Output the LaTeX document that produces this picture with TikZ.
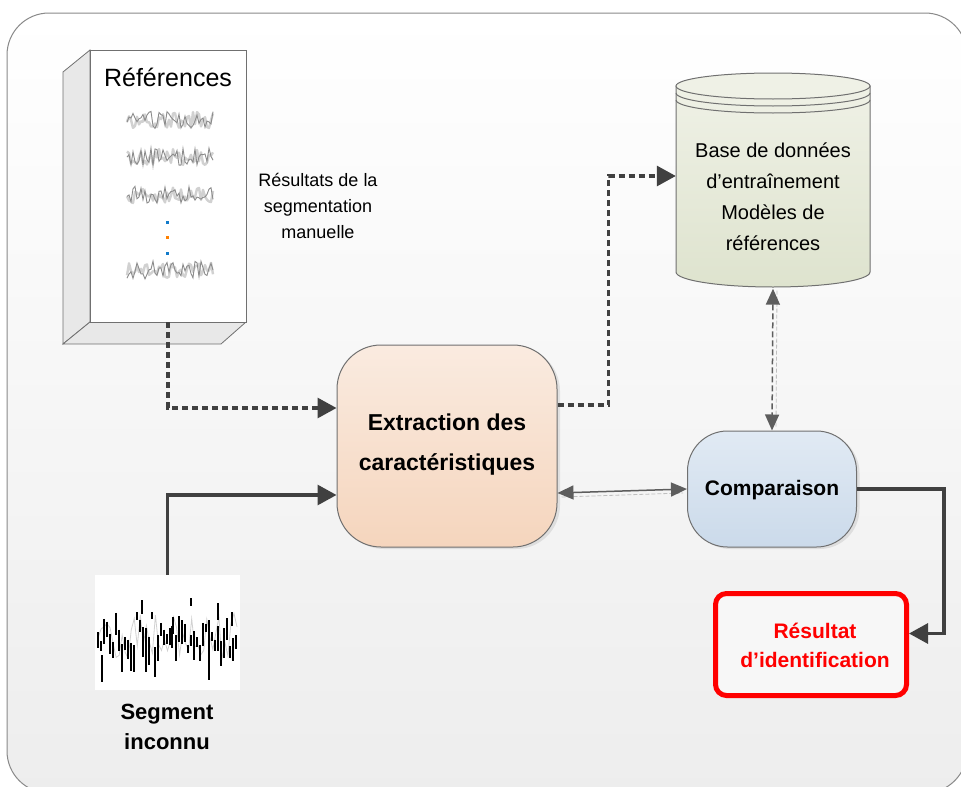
\documentclass[tikz,border=0pt]{standalone}
\usepackage{fontspec}
\setmainfont{Liberation Sans}
\usetikzlibrary{arrows.meta,calc,shadows}
\definecolor{conn}{HTML}{404040}
\definecolor{edge}{HTML}{707070}
\definecolor{framegray}{HTML}{8A8A8A}
\definecolor{peachtop}{HTML}{FAEBE0}
\definecolor{peachbot}{HTML}{F5D5BD}
\definecolor{bluetop}{HTML}{E1EAF4}
\definecolor{bluebot}{HTML}{CBDAEA}
\definecolor{greentop}{HTML}{EFF1E6}
\definecolor{greenbot}{HTML}{DEE3CE}
\definecolor{resred}{HTML}{FF0000}
\begin{document}
\begin{tikzpicture}[x=1pt,y=-1pt,
  frame/.style={draw=framegray,line width=1pt,rounded corners=42pt,top color=white,bottom color=black!7},
  face/.style={draw=edge,line width=0.8pt,fill=black!9},
  procbox/.style={draw=edge,line width=1pt,rounded corners=44pt,inner sep=0pt,
    drop shadow={shadow xshift=3pt,shadow yshift=-2pt,opacity=0.18}},
  thickarrow/.style={draw=conn,line width=3.1pt,-{Triangle[length=19pt,width=20pt]}},
  dasharrow/.style={thickarrow,dash pattern=on 6pt off 4pt},
  thinboth/.style={draw=conn!85,line width=1.5pt,{Triangle[length=16pt,width=14pt]}-{Triangle[length=16pt,width=14pt]}},
  ghost/.style={draw=black!25,line width=0.8pt,dash pattern=on 4pt off 2pt},
  wave/.style={draw=black!45,line width=0.9pt},
  lbl/.style={align=center,inner sep=0pt}
]
\useasboundingbox (0,0) rectangle (961,787);
\fill[white] (0,0) rectangle (961,787);
% rounded background panel
\path[frame] (7,13) rectangle (967,793);

% ---- reference document drawn as a thick sheet ----
\path[face] (63,72) -- (90,50) -- (90,322) -- (63,344) -- cycle;
\path[face] (63,344) -- (90,322) -- (246,322) -- (221,344) -- cycle;
\node[draw=edge,line width=0.8pt,fill=white,minimum width=156pt,minimum height=272pt,inner sep=0pt] (ref) at (168,186) {};
\node[lbl,font=\fontsize{25}{30}\selectfont] (reftitle) at (168,77) {Références};
% recorded signals
\pgfmathsetseed{7}
\foreach \yy in {120,157,195,270}{
  \draw[draw=black!18,line width=2.4pt,line join=round] plot[domain=127:213,samples=44] (\x,{\yy+8*rand});
  \draw[wave] plot[domain=127:213,samples=44] (\x,{\yy+9*rand});
}
\fill[cyan!60!blue] (165.5,220.5) rectangle (168.5,223.5);
\fill[orange] (165.5,235.5) rectangle (168.5,238.5);
\fill[cyan!60!blue] (165.5,251.5) rectangle (168.5,254.5);

\node[lbl,font=\fontsize{18}{26}\selectfont] (note) at (318,206) {Résultats de la\\segmentation\\manuelle};

% ---- database cylinder ----
\path[draw=edge,line width=1pt,top color=greentop,bottom color=greenbot]
  (676,86) -- (676,272) arc[start angle=180,end angle=0,x radius=97,y radius=15] -- (870,86) -- cycle;
\path[draw=edge,line width=1pt,fill=greentop] (773,86) ellipse[x radius=97,y radius=13];
\draw[edge,line width=1pt] (676,93) arc[start angle=180,end angle=0,x radius=97,y radius=13];
\draw[edge,line width=1pt] (676,100) arc[start angle=180,end angle=0,x radius=97,y radius=13];
\node[minimum width=194pt,minimum height=215pt,inner sep=0pt] (db) at (773,181) {};
\node[lbl,font=\fontsize{20}{31}\selectfont] (dbtext) at (773,197) {Base de données\\d'entraînement\\Modèles de\\références};

% ---- processing blocks ----
\node[procbox,top color=peachtop,bottom color=peachbot,minimum width=220pt,minimum height=202pt] (ext) at (447,446) {};
\node[lbl,font=\fontsize{23}{40}\selectfont\bfseries] (exttext) at (447,445) {Extraction des\\caractéristiques};

\node[procbox,rounded corners=40pt,top color=bluetop,bottom color=bluebot,minimum width=169pt,minimum height=116pt] (cmp) at (772,489) {};
\node[lbl,font=\fontsize{21}{25}\selectfont\bfseries] (cmptext) at (772,490) {Comparaison};

\node[draw=resred,line width=5pt,rounded corners=11pt,fill=black!3,minimum width=191pt,minimum height=102pt,inner sep=0pt] (res) at (811,644.5) {};
\node[lbl,text=resred,font=\fontsize{21}{29}\selectfont\bfseries] (restext) at (815,645) {Résultat\\d'identification};

% ---- unknown segment ----
\node[fill=white,minimum width=145pt,minimum height=115pt,inner sep=0pt] (seg) at (167.5,632.5) {};
\pgfmathsetseed{11}
\draw[draw=black!18,line width=0.8pt] plot[domain=98:237,samples=47] (\x,{637+26*rand});
\foreach \i in {0,...,46}{
  \pgfmathsetmacro{\xa}{98+3*\i}
  \pgfmathsetmacro{\ya}{630+18*rand}
  \pgfmathsetmacro{\yb}{\ya+6+24*abs(rand)}
  \draw[black,line width=1.6pt] (\xa,\ya) -- (\xa,\yb);
}
\foreach \xa/\ya/\yb in {102/655/682,142/600/614,146/628/672,172/626/648,191/598/606,209/620/680,218/603/620,232/612/626}{
  \draw[black,line width=1.6pt] (\xa,\ya) -- (\xa,\yb);
}
\node[lbl,font=\fontsize{22}{30}\selectfont\bfseries] (segtext) at (167,727) {Segment\\inconnu};

% ---- connectors ----
\draw[dasharrow] (ref.south) |- ($(ext.west)+(0,-38)$);
\draw[thickarrow] (seg.north) |- ($(ext.west)+(0,49)$);
\draw[dasharrow] ($(ext.east)+(0,-41)$) -- ++(51,0) |- ($(db.west)+(0,-5)$);
\draw[ghost] ($(ext.east)+(4,51)$) -- ($(cmp.west)+(-4,4)$);
\draw[thinboth] ($(ext.east)+(0,47)$) -- (cmp.west);
\draw[ghost] ($(db.south)+(4,2)$) -- ($(cmp.north)+(4,-2)$);
\draw[thinboth,dash pattern=on 6pt off 3pt] (db.south) -- (cmp.north);
\draw[thickarrow] (cmp.east) -- ++(87,0) |- ($(res.east)+(0,-11)$);
\end{tikzpicture}
\end{document}
